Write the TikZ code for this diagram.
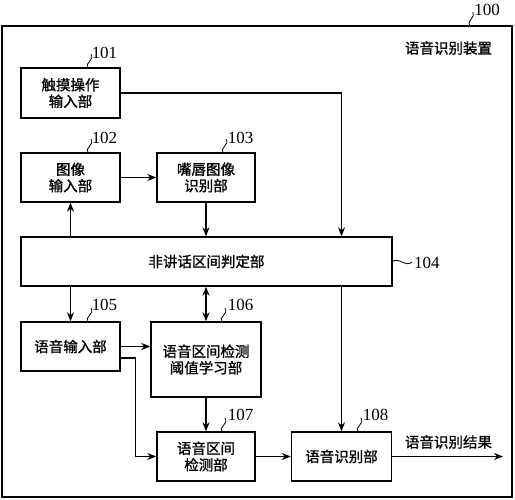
\documentclass[tikz,border=0pt]{standalone}
\usepackage{fontspec}
\setmainfont{Liberation Serif}
\newfontfamily\cjk[FakeBold=1.2]{Noto Sans CJK SC}
\usetikzlibrary{arrows.meta,calc}
\tikzset{
  box/.style={draw,line width=1.4pt,inner sep=0pt,align=center,font=\cjk\fontsize{14.5}{16.5}\selectfont},
  txt/.style={inner sep=0pt,font=\cjk\fontsize{14.5}{16.5}\selectfont},
  num/.style={inner sep=0pt,font=\fontsize{17}{17}\selectfont},
  arr/.style={line width=1.1pt,-{Stealth[length=9pt,width=7pt]}},
  darr/.style={line width=1.1pt,{Stealth[length=9pt,width=7pt]}-{Stealth[length=9pt,width=7pt]}},
  lead/.style={line width=0.8pt}
}
\begin{document}
\begin{tikzpicture}[x=1pt,y=-1pt]
\useasboundingbox (0,0) rectangle (515,500);
\draw[line width=1.8pt] (2,26) rectangle (512,497);
\node[txt] (title) at (448.5,48) {语音识别装置};
\node[num] (l100) at (487,10) {100};
\draw[lead] (470,26) .. controls (466,20) and (476,18) .. (473,12);

\node[box,minimum width=99pt,minimum height=50pt] (n101) at (70.5,93) {触摸操作\\输入部};
\node[box,minimum width=99pt,minimum height=49pt] (n102) at (70.5,177.5) {图像\\输入部};
\node[box,minimum width=98pt,minimum height=49pt] (n103) at (206,177.5) {嘴唇图像\\识别部};
\node[box,minimum width=371pt,minimum height=49pt] (n104) at (206.5,261.5) {非讲话区间判定部};
\node[box,minimum width=99pt,minimum height=49pt] (n105) at (70.5,346.5) {语音输入部};
\node[box,minimum width=110pt,minimum height=75pt] (n106) at (206,359.5) {语音区间检测\\阈值学习部};
\node[box,minimum width=98pt,minimum height=49pt] (n107) at (206,456.5) {语音区间\\检测部};
\node[box,minimum width=100pt,minimum height=49pt] (n108) at (341.5,456.5) {语音识别部};

\node[num] (l101) at (104.5,52.5) {101};
\draw[lead] (88,68) .. controls (84,63) and (95,60) .. (91,54);
\node[num] (l102) at (104.5,137.5) {102};
\draw[lead] (88,153) .. controls (84,148) and (95,145) .. (91,139);
\node[num] (l103) at (240.5,137.5) {103};
\draw[lead] (223,153) .. controls (219,148) and (230,145) .. (226,139);
\node[num,anchor=west] (l104) at (414,262.5) {104};
\draw[lead] (392,262) .. controls (398,256) and (406,268) .. (412,262);
\node[num] (l105) at (104.5,305) {105};
\draw[lead] (88,322) .. controls (84,317) and (95,314) .. (91,308);
\node[num] (l106) at (240.5,305) {106};
\draw[lead] (222,322) .. controls (218,317) and (229,314) .. (225,308);
\node[num] (l107) at (240.5,415) {107};
\draw[lead] (222,432) .. controls (218,427) and (229,424) .. (225,418);
\node[num] (l108) at (375.5,415) {108};
\draw[lead] (358,432) .. controls (354,427) and (365,424) .. (361,418);

\draw[arr] (n101.east) -| (n108.north |- n104.north);
\draw[arr] (n102.east) -- (n103.west);
\draw[arr] (n103.south) -- (n103.south |- n104.north);
\draw[arr] (n102.south |- n104.north) -- (n102.south);
\draw[arr] (n105.north |- n104.south) -- (n105.north);
\draw[darr] (n106.north |- n104.south) -- (n106.north);
\draw[arr] (n108.north |- n104.south) -- (n108.north);
\draw[arr] (n105.east) -- (n105.east -| n106.west);
\draw[arr] ($(n105.east)+(0,11.5)$) -- ++(15,0) |- (n107.west);
\draw[arr] (n106.south) -- (n107.north);
\draw[arr] (n107.east) -- (n108.west);
\coordinate (out) at (503,456.5);
\draw[arr] (n108.east) -- (out);
\node[txt] (res) at (448.5,442) {语音识别结果};
\end{tikzpicture}
\end{document}
